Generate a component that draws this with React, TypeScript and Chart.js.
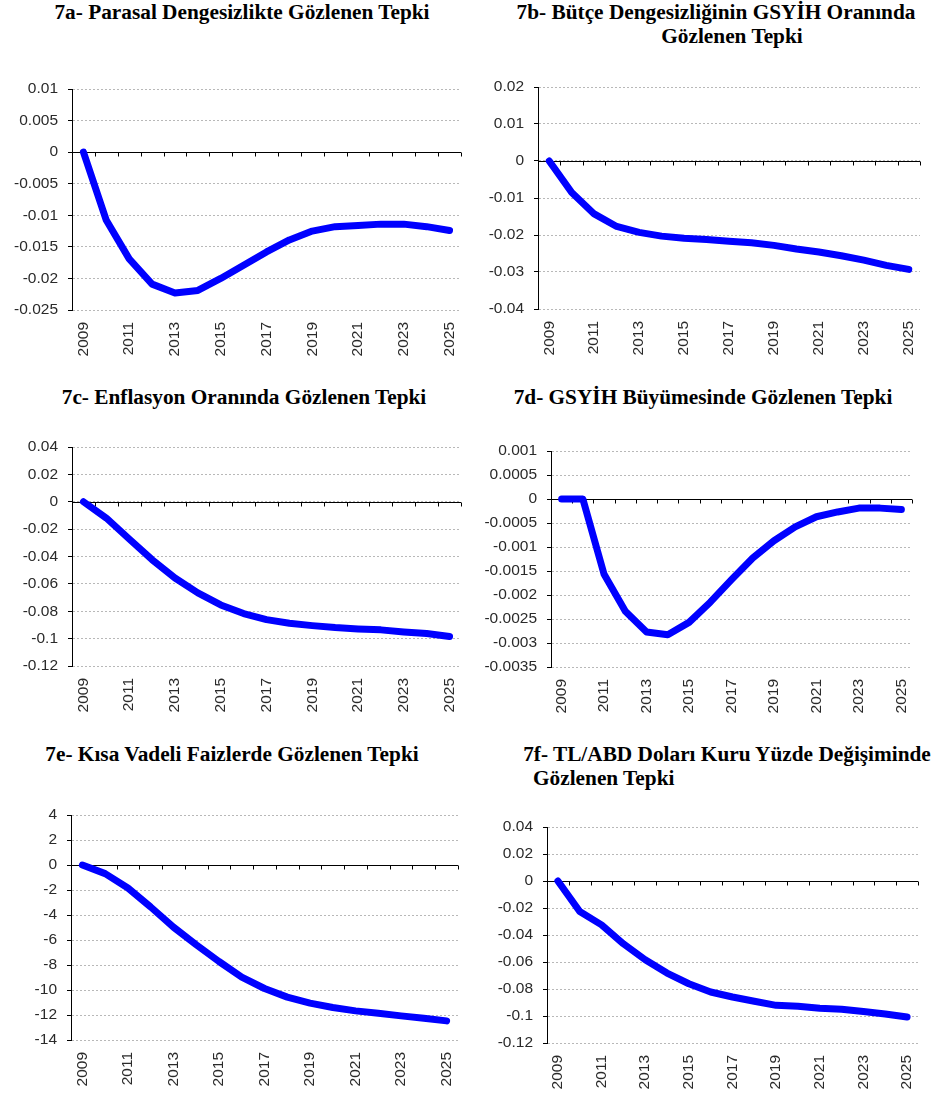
import React, { useEffect, useRef } from 'react';
import { Chart, registerables } from 'chart.js';

Chart.register(...registerables);

// ---------------- DATA ----------------
const years = ['2009', '2010', '2011', '2012', '2013', '2014', '2015', '2016', '2017', '2018', '2019', '2020', '2021', '2022', '2023', '2024', '2025'];

const parasalDengesizlik = [0, -0.0108, -0.0169, -0.0209, -0.0223, -0.0219, -0.02, -0.0179, -0.0158, -0.0139, -0.0125, -0.0118, -0.0116, -0.0114, -0.0114, -0.0118, -0.0124];
const butceDengesizligi = [0, -0.0085, -0.0143, -0.0177, -0.0193, -0.0203, -0.0209, -0.0212, -0.0217, -0.0221, -0.0228, -0.0238, -0.0246, -0.0256, -0.0268, -0.0282, -0.0293];
const enflasyonOrani = [0, -0.0119, -0.0272, -0.0423, -0.0557, -0.0666, -0.0754, -0.0817, -0.0861, -0.0888, -0.0905, -0.0919, -0.0929, -0.0936, -0.0951, -0.0963, -0.0985];
const gsyihBuyumesi = [0, 0, -0.00157, -0.00234, -0.00277, -0.00283, -0.00257, -0.00215, -0.00168, -0.00123, -0.00087, -0.00058, -0.00037, -0.00027, -0.00019, -0.00019, -0.00022];
const kisaVadeliFaiz = [0, -0.69, -1.84, -3.36, -4.97, -6.38, -7.72, -8.97, -9.88, -10.57, -11.05, -11.4, -11.67, -11.86, -12.07, -12.26, -12.47];
const dolarKuru = [0, -0.0226, -0.0325, -0.0465, -0.0583, -0.0682, -0.0761, -0.0822, -0.0859, -0.0891, -0.0921, -0.0928, -0.0943, -0.095, -0.0967, -0.0985, -0.1007];

const yTicksA = [-0.025, -0.02, -0.015, -0.01, -0.005, 0, 0.005, 0.01];
const yTicksB = [-0.04, -0.03, -0.02, -0.01, 0, 0.01, 0.02];
const yTicksC = [-0.12, -0.1, -0.08, -0.06, -0.04, -0.02, 0, 0.02, 0.04];
const yTicksD = [-0.0035, -0.003, -0.0025, -0.002, -0.0015, -0.001, -0.0005, 0, 0.0005, 0.001];
const yTicksE = [-14, -12, -10, -8, -6, -4, -2, 0, 2, 4];
const yTicksF = [-0.12, -0.1, -0.08, -0.06, -0.04, -0.02, 0, 0.02, 0.04];

const titleA = ['7a- Parasal Dengesizlikte Gözlenen Tepki'];
const titleB = ['7b- Bütçe Dengesizliğinin GSYİH Oranında', 'Gözlenen Tepki'];
const titleC = ['7c- Enflasyon Oranında Gözlenen Tepki'];
const titleD = ['7d- GSYİH Büyümesinde Gözlenen Tepki'];
const titleE = ['7e- Kısa Vadeli Faizlerde Gözlenen Tepki'];
const titleF = ['7f- TL/ABD Doları Kuru Yüzde Değişiminde', 'Gözlenen Tepki'];

// ---------------- LAYOUT ----------------
const PT = 14;
const PR = 14;
const XH = 52;
const AXIS_FONT = { family: "'Liberation Sans', Arial, sans-serif", size: 15.5 };
const TEXT_COLOR = '#2a2a2a';

type PanelSpec = {
  data: number[];
  yTicks: number[];
  left: number;
  axisX: number;
  top: number;
  bottom: number;
  right: number;
};

const panels: PanelSpec[] = [
  { data: parasalDengesizlik, yTicks: yTicksA, left: 0, axisX: 72, top: 89, bottom: 310, right: 461 },
  { data: butceDengesizligi, yTicks: yTicksB, left: 470, axisX: 538, top: 87, bottom: 309, right: 920 },
  { data: enflasyonOrani, yTicks: yTicksC, left: 0, axisX: 72, top: 447, bottom: 666, right: 461 },
  { data: gsyihBuyumesi, yTicks: yTicksD, left: 470, axisX: 551, top: 451, bottom: 667, right: 912 },
  { data: kisaVadeliFaiz, yTicks: yTicksE, left: 0, axisX: 71, top: 815, bottom: 1040, right: 458 },
  { data: dolarKuru, yTicks: yTicksF, left: 470, axisX: 547, top: 827, bottom: 1043, right: 918 },
];

type TitleSpec = { lines: string[]; top: number; centers: (number | null)[]; lefts: (number | null)[] };

const titles: TitleSpec[] = [
  { lines: titleA, top: 0, centers: [242], lefts: [null] },
  { lines: titleB, top: 0, centers: [716, 732], lefts: [null, null] },
  { lines: titleC, top: 385, centers: [244], lefts: [null] },
  { lines: titleD, top: 385, centers: [703], lefts: [null] },
  { lines: titleE, top: 742, centers: [232], lefts: [null] },
  { lines: titleF, top: 742, centers: [727, null], lefts: [null, 533] },
];

const zeroAxisPlugin = {
  id: 'zeroAxis',
  beforeDatasetsDraw(chart: any) {
    const { ctx, chartArea, scales } = chart;
    const x = scales.x;
    const y = scales.y;
    const yz = Math.round(y.getPixelForValue(0)) + 0.5;
    ctx.save();
    ctx.strokeStyle = '#000';
    ctx.lineWidth = 1;
    ctx.setLineDash([]);
    ctx.beginPath();
    ctx.moveTo(chartArea.left, yz);
    ctx.lineTo(chartArea.right, yz);
    const n = x.getLabels().length;
    for (let i = 1; i <= n; i++) {
      const px = Math.round(x.getPixelForValue(i - 0.5)) + 0.5;
      ctx.moveTo(px, yz);
      ctx.lineTo(px, yz + 4);
    }
    ctx.stroke();
    ctx.restore();
  },
};

function createChart(canvas: HTMLCanvasElement, spec: PanelSpec) {
  const yW = spec.axisX - spec.left;
  const sorted = [...spec.yTicks].sort((a, b) => a - b);
  return new Chart(canvas, {
    type: 'line',
    data: {
      labels: years,
      datasets: [
        {
          data: spec.data,
          borderColor: '#0000ff',
          backgroundColor: '#0000ff',
          borderWidth: 7,
          pointRadius: 0,
          tension: 0,
          borderCapStyle: 'round',
          borderJoinStyle: 'round',
          fill: false,
        },
      ],
    },
    options: {
      responsive: false,
      animation: false,
      layout: { padding: { left: 0, top: PT, right: PR, bottom: 0 } },
      plugins: {
        legend: { display: false },
        tooltip: { enabled: false },
        title: { display: false },
      },
      scales: {
        x: {
          type: 'category',
          offset: true,
          grid: { display: false, drawTicks: false },
          border: { display: false },
          ticks: {
            autoSkip: false,
            maxRotation: 90,
            minRotation: 90,
            padding: 12,
            font: AXIS_FONT,
            color: TEXT_COLOR,
            callback: (_v: any, i: number) => (i % 2 === 0 ? years[i] : ''),
          },
          afterFit: (s: any) => {
            s.height = XH;
            s.paddingLeft = 0;
            s.paddingRight = 0;
          },
        },
        y: {
          type: 'linear',
          min: sorted[0],
          max: sorted[sorted.length - 1],
          grid: {
            color: '#b8b8b8',
            lineWidth: 1,
            tickColor: '#000',
            tickLength: 4,
            tickBorderDash: [],
          },
          border: { display: true, color: '#000', width: 1, dash: [2, 2] },
          ticks: {
            padding: 10,
            font: AXIS_FONT,
            color: TEXT_COLOR,
            callback: (v: any) => String(+Number(v).toFixed(6)),
          },
          afterBuildTicks: (s: any) => {
            s.ticks = sorted.map((v) => ({ value: v }));
          },
          afterFit: (s: any) => {
            s.width = yW;
            s.paddingTop = 0;
            s.paddingBottom = 0;
          },
        },
      },
    } as any,
    plugins: [zeroAxisPlugin],
  });
}

export default function App() {
  const refs = useRef<(HTMLCanvasElement | null)[]>([]);

  useEffect(() => {
    const charts = panels.map((p, i) => createChart(refs.current[i] as HTMLCanvasElement, p));
    return () => charts.forEach((c) => c.destroy());
  }, []);

  return (
    <div
      style={{
        position: 'absolute',
        left: 0,
        top: 0,
        width: 939,
        height: 1097,
        overflow: 'hidden',
        background: '#fff',
      }}
    >
      {titles.map((t, ti) =>
        t.lines.map((line, li) => {
          const c = t.centers[li];
          const l = t.lefts[li];
          const style: React.CSSProperties = {
            position: 'absolute',
            top: t.top + li * 24,
            fontFamily: "'Liberation Serif', 'Times New Roman', serif",
            fontWeight: 'bold',
            fontSize: 21.3,
            lineHeight: '24px',
            whiteSpace: 'nowrap',
            color: '#000',
          };
          if (c !== null) {
            style.left = c;
            style.transform = 'translateX(-50%)';
          } else {
            style.left = l as number;
          }
          return (
            <div key={`t${ti}-${li}`} style={style}>
              {line}
            </div>
          );
        })
      )}
      {panels.map((p, i) => {
        const cTop = p.top - PT;
        const w = p.right + PR - p.left;
        const h = PT + (p.bottom - p.top) + XH;
        return (
          <canvas
            key={i}
            ref={(el) => {
              refs.current[i] = el;
            }}
            width={w}
            height={h}
            style={{ position: 'absolute', left: p.left, top: cTop, width: w, height: h }}
          />
        );
      })}
    </div>
  );
}
